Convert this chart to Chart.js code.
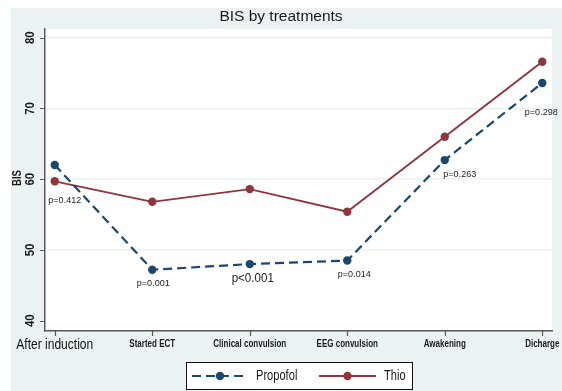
<!DOCTYPE html>
<html>
<head>
<meta charset="utf-8">
<script src="https://cdn.jsdelivr.net/npm/chart.js@4.4.0/dist/chart.umd.min.js"></script>
<style>
  html, body { margin: 0; padding: 0; background: #fff; }
  #wrap { width: 562px; height: 391px; }
</style>
</head>
<body>
<div id="wrap"><canvas id="bisChart" width="562" height="391"></canvas></div>
<script>
// BIS by treatment group at each stage of ECT
const stages = ['After induction', 'Started ECT', 'Clinical convulsion', 'EEG convulsion', 'Awakening', 'Dicharge'];
const propofol = [62.0, 47.2, 48.0, 48.5, 62.7, 73.6];
const thio = [59.7, 56.8, 58.6, 55.4, 66.0, 76.6];
const pValues = ['p=0.412', 'p=0.001', 'p<0.001', 'p=0.014', 'p=0.263', 'p=0.298'];
const yTicks = [40, 50, 60, 70, 80];

const NAVY = '#1a476f';
const MAROON = '#90353b';
const PANEL = '#eaf2f3';
const AXIS = '#595959';
const INK = '#1a1a1a';

// p-value text: pixel offset from the lower point of each stage, font, horizontal squeeze
const pStyle = [
  { dx: 10, dy: 19, font: '9px "Liberation Sans"', sx: 1 },
  { dx: 1, dy: 14, font: '9px "Liberation Sans"', sx: 1 },
  { dx: 3, dy: 14, font: '13px "Liberation Sans"', sx: 0.89 },
  { dx: 7, dy: 14, font: '9px "Liberation Sans"', sx: 1 },
  { dx: 15, dy: 14, font: '9px "Liberation Sans"', sx: 1 },
  { dx: -1, dy: 30, font: '9px "Liberation Sans"', sx: 1 }
];

function drawText(ctx, text, x, y, font, opts = {}) {
  ctx.save();
  ctx.translate(x, y);
  if (opts.rotate) ctx.rotate(opts.rotate);
  ctx.scale(opts.sx || 1, 1);
  ctx.font = font;
  ctx.fillStyle = opts.color || INK;
  ctx.textAlign = opts.align || 'center';
  ctx.textBaseline = 'middle';
  ctx.fillText(text, 0, 0);
  ctx.restore();
}

const stataFrame = {
  id: 'stataFrame',
  beforeDraw(chart) {
    const { ctx, chartArea: a } = chart;
    ctx.save();
    ctx.fillStyle = '#fff';
    ctx.fillRect(0, 0, chart.width, chart.height);
    ctx.fillStyle = PANEL;
    ctx.fillRect(11, 8, chart.width - 11, chart.height - 8);
    ctx.fillStyle = '#fff';
    ctx.fillRect(a.left, a.top, a.right - a.left, a.bottom - a.top);
    ctx.restore();
  },
  afterDraw(chart) {
    const { ctx, chartArea: a } = chart;
    const xs = chart.scales.x, ys = chart.scales.y;

    // tick marks
    ctx.save();
    ctx.strokeStyle = AXIS;
    ctx.lineWidth = 1.2;
    ctx.beginPath();
    yTicks.forEach(v => {
      const py = Math.round(ys.getPixelForValue(v)) + 0.5;
      ctx.moveTo(a.left - 5, py);
      ctx.lineTo(a.left, py);
    });
    stages.forEach((s, i) => {
      const px = Math.round(xs.getPixelForValue(i)) + 0.5;
      ctx.moveTo(px, a.bottom);
      ctx.lineTo(px, a.bottom + 5);
    });
    ctx.stroke();
    ctx.restore();

    // y tick labels, rotated
    yTicks.forEach(v => {
      drawText(ctx, String(v), 31, ys.getPixelForValue(v), 'bold 12px "Liberation Sans"', { rotate: -Math.PI / 2, sx: 0.95 });
    });
    drawText(ctx, 'BIS', 18, 178, 'bold 12px "Liberation Sans"', { rotate: -Math.PI / 2, sx: 0.8 });

    // category labels
    stages.forEach((s, i) => {
      const px = xs.getPixelForValue(i);
      if (i === 0) {
        drawText(ctx, s, px, a.bottom + 14, '14px "Liberation Sans"', { sx: 0.86, color: '#111' });
      } else {
        drawText(ctx, s, px, a.bottom + 13, 'bold 10px "Liberation Sans"', { sx: 0.8 });
      }
    });

    // p-values for the group comparison at each stage
    pValues.forEach((p, i) => {
      const st = pStyle[i];
      const lowY = ys.getPixelForValue(Math.min(propofol[i], thio[i]));
      drawText(ctx, p, xs.getPixelForValue(i) + st.dx, lowY + st.dy, st.font, { sx: st.sx, color: '#222' });
    });

    // title
    drawText(ctx, 'BIS by treatments', chart.width / 2, 17, '15.5px "Liberation Sans"');

    // legend
    ctx.save();
    ctx.fillStyle = '#fff';
    ctx.fillRect(186, 362, 226, 27);
    ctx.strokeStyle = '#111';
    ctx.lineWidth = 1;
    ctx.strokeRect(186.5, 362.5, 226, 27);
    const ly = 376;
    const items = [
      { ds: chart.data.datasets[0], x0: 192, x1: 248, tx: 256 },
      { ds: chart.data.datasets[1], x0: 319, x1: 376, tx: 384 }
    ];
    items.forEach(it => {
      ctx.strokeStyle = it.ds.borderColor;
      ctx.lineWidth = it.ds.borderWidth;
      ctx.setLineDash(it.ds.borderDash || []);
      ctx.beginPath();
      ctx.moveTo(it.x0, ly);
      ctx.lineTo(it.x1, ly);
      ctx.stroke();
      ctx.setLineDash([]);
      ctx.fillStyle = it.ds.pointBackgroundColor;
      ctx.beginPath();
      ctx.arc((it.x0 + it.x1) / 2, ly, 4.2, 0, Math.PI * 2);
      ctx.fill();
      drawText(ctx, it.ds.label, it.tx, ly, '15px "Liberation Sans"', { align: 'left', sx: 0.74 });
    });
    ctx.restore();
  }
};

const toPoints = arr => arr.map((v, i) => ({ x: i, y: v }));

new Chart(document.getElementById('bisChart'), {
  type: 'line',
  data: {
    datasets: [
      {
        label: 'Propofol',
        data: toPoints(propofol),
        borderColor: NAVY,
        backgroundColor: NAVY,
        pointBackgroundColor: NAVY,
        pointBorderWidth: 0,
        pointRadius: 4.2,
        borderWidth: 2.2,
        borderDash: [9, 5],
        tension: 0
      },
      {
        label: 'Thio',
        data: toPoints(thio),
        borderColor: MAROON,
        backgroundColor: MAROON,
        pointBackgroundColor: MAROON,
        pointBorderWidth: 0,
        pointRadius: 4.2,
        borderWidth: 1.9,
        tension: 0
      }
    ]
  },
  options: {
    responsive: false,
    animation: false,
    devicePixelRatio: 1,
    layout: { padding: { left: 45, top: 29, right: 10, bottom: 60 } },
    plugins: {
      legend: { display: false },
      title: { display: false },
      tooltip: { enabled: false }
    },
    scales: {
      x: {
        type: 'linear',
        min: -0.1,
        max: 5.1,
        ticks: { display: false },
        grid: { display: false, drawTicks: false },
        border: { display: true, color: AXIS, width: 1.5 }
      },
      y: {
        min: 38.54,
        max: 81.23,
        afterBuildTicks: s => { s.ticks = yTicks.map(v => ({ value: v })); },
        ticks: { display: false },
        grid: {
          drawTicks: false,
          lineWidth: 1.5,
          color: c => (c.tick && c.tick.value === 40 ? 'rgba(0,0,0,0)' : PANEL)
        },
        border: { display: true, color: AXIS, width: 1.5 }
      }
    }
  },
  plugins: [stataFrame]
});
</script>
</body>
</html>
